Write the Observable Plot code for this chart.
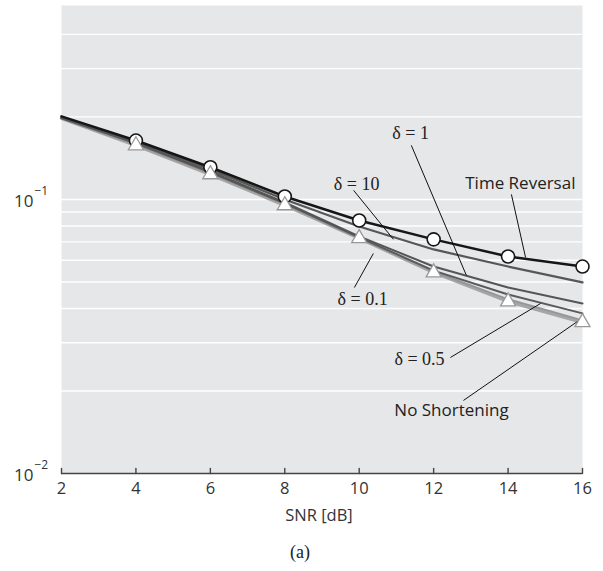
<!DOCTYPE html>
<html>
<head>
<meta charset="utf-8">
<script src="https://cdn.jsdelivr.net/npm/d3@7"></script>
<script src="https://cdn.jsdelivr.net/npm/@observablehq/plot@0.6"></script>
<style>
  html, body { margin: 0; padding: 0; background: white; }
</style>
</head>
<body>
<div id="chart"></div>
<script>
// ---- data ----
const snr = [2, 4, 6, 8, 10, 12, 14, 16];
const timeReversal = [0.201, 0.164, 0.131, 0.1025, 0.0838, 0.0715, 0.0619, 0.0569];
const delta10      = [0.199, 0.163, 0.1287, 0.100, 0.0797, 0.0657, 0.0569, 0.0498];
const delta1       = [0.199, 0.1614, 0.1266, 0.0975, 0.0733, 0.0569, 0.0477, 0.0417];
const delta05      = [0.1975, 0.1601, 0.1255, 0.0967, 0.0727, 0.0550, 0.0450, 0.0384];
const delta01      = [0.1975, 0.1587, 0.1244, 0.0959, 0.0721, 0.0546, 0.0432, 0.0362];
const noShortening = [0.1975, 0.1574, 0.1234, 0.0951, 0.0721, 0.0541, 0.0424, 0.0356];

const xTicks = [2, 4, 6, 8, 10, 12, 14, 16];
const yTickLabels = [{v: 0.1, exp: "−1"}, {v: 0.01, exp: "−2"}];
const gridValues = [0.02, 0.03, 0.04, 0.05, 0.06, 0.07, 0.08, 0.09, 0.1, 0.2, 0.3, 0.4];
const yDomain = [0.01, 0.51];

// annotation labels (data coordinates)
const labels = [
  {text: "δ = 1",          x: 11.38, y: 0.1741, serif: true},
  {text: "δ = 10",         x: 9.93,  y: 0.1134, serif: true},
  {text: "Time Reversal",  x: 14.33, y: 0.1144, serif: false},
  {text: "δ = 0.1",        x: 10.09, y: 0.0432, serif: true},
  {text: "δ = 0.5",        x: 11.62, y: 0.02607, serif: true},
  {text: "No Shortening",  x: 12.48, y: 0.01698, serif: false}
];
// leader lines (data coordinates)
const leaders = [
  {x1: 11.40, y1: 0.1575, x2: 12.88, y2: 0.0528},
  {x1: 9.85,  y1: 0.1079, x2: 10.92, y2: 0.0715},
  {x1: 14.09, y1: 0.1043, x2: 14.47, y2: 0.0614},
  {x1: 9.87,  y1: 0.0477, x2: 10.38, y2: 0.0635},
  {x1: 12.45, y1: 0.0265, x2: 14.87, y2: 0.0417},
  {x1: 12.80, y1: 0.01847, x2: 15.87, y2: 0.0359}
];

// ---- series & styles ----
const series = [
  {name: "No Shortening", values: noShortening, stroke: "#a6a6a6", width: 3.2},
  {name: "δ = 0.1",       values: delta01,      stroke: "#969696", width: 2},
  {name: "δ = 0.5",       values: delta05,      stroke: "#5a5a5a", width: 2},
  {name: "δ = 1",         values: delta1,       stroke: "#555555", width: 2},
  {name: "δ = 10",        values: delta10,      stroke: "#575757", width: 2.2},
  {name: "Time Reversal", values: timeReversal, stroke: "#161616", width: 2.5}
];
const rows = s => snr.map((x, i) => ({x, y: s.values[i]}));
const trRows = rows(series[5]).filter(d => d.x > 2);
const nsRows = rows(series[0]).filter(d => d.x > 2);

const sans = "'Open Sans', sans-serif";
const serif = "'Liberation Serif', 'Times New Roman', serif";

const tickShape = {draw(context, l) { context.moveTo(0, 0); context.lineTo(0, -l); }};

const chart = Plot.plot({
  width: 603,
  height: 571,
  marginLeft: 61,
  marginRight: 21,
  marginTop: 5,
  marginBottom: 98,
  style: {fontFamily: sans, background: "white", overflow: "visible"},
  x: {domain: [2, 16], axis: null},
  y: {type: "log", domain: yDomain, axis: null},
  marks: [
    Plot.frame({fill: "#e6e7e9", stroke: null}),
    Plot.ruleY(gridValues, {y: d => d, stroke: "white", strokeWidth: 1.4}),
    ...series.map(s => Plot.line(rows(s), {x: "x", y: "y", stroke: s.stroke, strokeWidth: s.width, curve: "linear"})),
    Plot.link(leaders, {x1: "x1", y1: "y1", x2: "x2", y2: "y2", stroke: "#111", strokeWidth: 1}),
    Plot.dot(trRows, {x: "x", y: "y", r: 6.5, fill: "white", stroke: "#161616", strokeWidth: 1.6}),
    Plot.dot(nsRows, {x: "x", y: "y", r: 5.6, symbol: "triangle", fill: "white", stroke: "#999", strokeWidth: 1.3}),
    Plot.text(labels.filter(d => d.serif), {x: "x", y: "y", text: "text", fontFamily: serif, fontSize: 18, fill: "#222"}),
    Plot.text(labels.filter(d => !d.serif), {x: "x", y: "y", text: "text", fontFamily: sans, fontSize: 17, fill: "#222"}),
    // x axis line and inward ticks
    Plot.ruleY([yDomain[0]], {y: d => d, stroke: "#444", strokeWidth: 1.6}),
    Plot.vector(xTicks, {x: d => d, frameAnchor: "bottom", length: 5, anchor: "start", rotate: 0, shape: tickShape, stroke: "#444", strokeWidth: 1.4}),
    Plot.axisX({ticks: xTicks, tickSize: 0, tickPadding: 9, fontSize: 16.5, fill: "#333", fontFamily: sans, label: null}),
    // y tick labels with superscripts
    Plot.text(yTickLabels, {y: "v", text: () => "10", frameAnchor: "left", dx: -28, dy: 2, textAnchor: "end", fontSize: 17, fill: "#333", fontFamily: sans}),
    Plot.text(yTickLabels, {y: "v", text: "exp", frameAnchor: "left", dx: -27, dy: -8, textAnchor: "start", fontSize: 12, fill: "#333", fontFamily: sans}),
    // axis title & caption
    Plot.text(["SNR [dB]"], {text: d => d, frameAnchor: "bottom", dy: 47, dx: -3, fontSize: 16.5, fill: "#333", fontFamily: sans}),
    Plot.text(["(a)"], {text: d => d, frameAnchor: "bottom", dy: 84, dx: -22, fontSize: 18, fill: "#222", fontFamily: serif})
  ]
});
document.getElementById("chart").appendChild(chart);
</script>
</body>
</html>
